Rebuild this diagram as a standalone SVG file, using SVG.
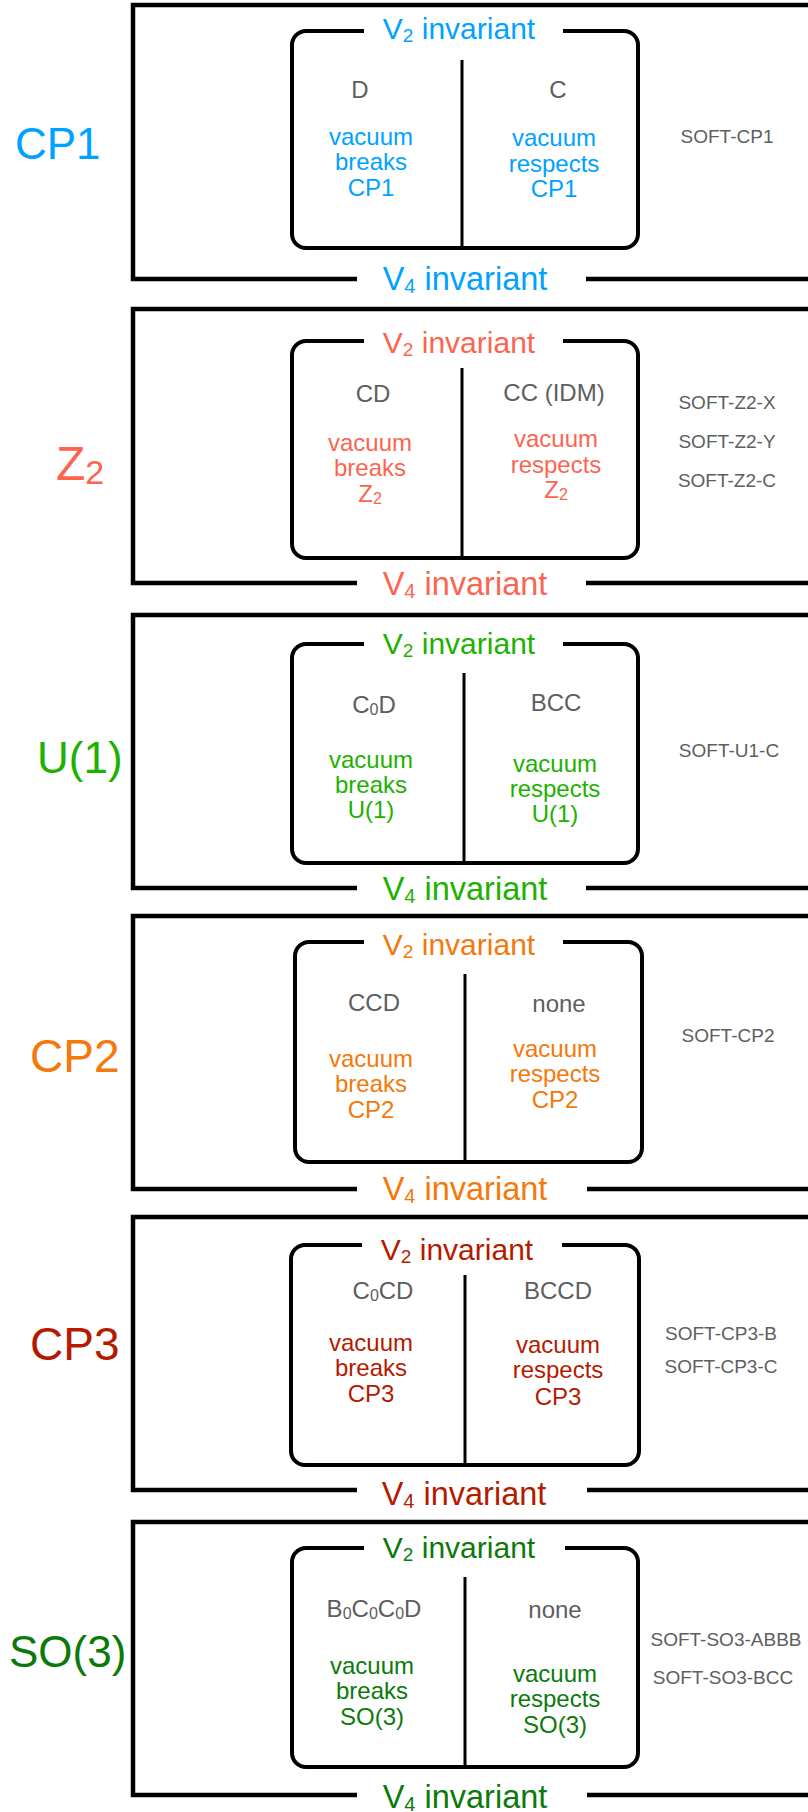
<svg xmlns="http://www.w3.org/2000/svg" width="808" height="1812" viewBox="0 0 808 1812">
<style>
text{font-family:"Liberation Sans",Arial,Helvetica,sans-serif}
.frame{fill:none;stroke:#000;stroke-width:4.5}
.inner{fill:none;stroke:#000;stroke-width:4;stroke-linejoin:round}
.div{stroke:#000;stroke-width:3}
.g{fill:#5e5e5e;font-size:24px;text-anchor:middle}
.b{font-size:24px;text-anchor:middle}
.v2{font-size:30px;text-anchor:middle}
.v4{font-size:32.5px;text-anchor:middle}
.soft{fill:#5e5e5e;font-size:19px;text-anchor:middle}
.cp1{fill:#00a2ff}
.z2{fill:#fd6450}
.u1{fill:#1db100}
.cp2{fill:#f4780a}
.cp3{fill:#b51a00}
.so3{fill:#0b7a0b}
</style>
<rect width="808" height="1812" fill="#fff"/>

<g id="sec-cp1">
<path class="frame" d="M357,279 H133 V5 H812 M586,279 H812"/>
<path class="inner" d="M364,31 H306 A14,14 0 0 0 292,45 V234 A14,14 0 0 0 306,248 H624 A14,14 0 0 0 638,234 V45 A14,14 0 0 0 624,31 H563"/>
<line class="div" x1="462" y1="60" x2="462" y2="248"/>
<text class="cp1" x="15" y="159" font-size="44">CP1</text>
<text class="v2 cp1" x="459" y="39">V<tspan font-size="19" dy="3">2</tspan><tspan dy="-3"> invariant</tspan></text>
<text class="v4 cp1" x="465" y="290">V<tspan font-size="20" dy="3">4</tspan><tspan dy="-3"> invariant</tspan></text>
<text class="g" x="360" y="98">D</text>
<text class="g" x="558" y="98">C</text>
<text class="b cp1" x="371" y="145">vacuum</text>
<text class="b cp1" x="371" y="170">breaks</text>
<text class="b cp1" x="371" y="196">CP1</text>
<text class="b cp1" x="554" y="146">vacuum</text>
<text class="b cp1" x="554" y="172">respects</text>
<text class="b cp1" x="554" y="197">CP1</text>
<text class="soft" x="727" y="143">SOFT-CP1</text>
</g>

<g id="sec-z2">
<path class="frame" d="M357,583 H133 V309 H812 M586,583 H812"/>
<path class="inner" d="M364,341 H306 A14,14 0 0 0 292,355 V544 A14,14 0 0 0 306,558 H624 A14,14 0 0 0 638,544 V355 A14,14 0 0 0 624,341 H563"/>
<line class="div" x1="462" y1="368" x2="462" y2="558"/>
<text class="z2" x="56" y="480" font-size="48">Z<tspan font-size="34" dy="4">2</tspan></text>
<text class="v2 z2" x="459" y="353">V<tspan font-size="19" dy="3">2</tspan><tspan dy="-3"> invariant</tspan></text>
<text class="v4 z2" x="465" y="595">V<tspan font-size="20" dy="3">4</tspan><tspan dy="-3"> invariant</tspan></text>
<text class="g" x="373" y="402">CD</text>
<text class="g" x="554" y="401">CC (IDM)</text>
<text class="b z2" x="370" y="451">vacuum</text>
<text class="b z2" x="370" y="476">breaks</text>
<text class="b z2" x="370" y="502">Z<tspan font-size="16" dy="2">2</tspan></text>
<text class="b z2" x="556" y="447">vacuum</text>
<text class="b z2" x="556" y="473">respects</text>
<text class="b z2" x="556" y="498">Z<tspan font-size="16" dy="2">2</tspan></text>
<text class="soft" x="727" y="409">SOFT-Z2-X</text>
<text class="soft" x="727" y="448">SOFT-Z2-Y</text>
<text class="soft" x="727" y="487">SOFT-Z2-C</text>
</g>

<g id="sec-u1">
<path class="frame" d="M357,888 H133 V615 H812 M586,888 H812"/>
<path class="inner" d="M364,644 H306 A14,14 0 0 0 292,658 V849 A14,14 0 0 0 306,863 H624 A14,14 0 0 0 638,849 V658 A14,14 0 0 0 624,644 H563"/>
<line class="div" x1="464" y1="673" x2="464" y2="863"/>
<text class="u1" x="37" y="773" font-size="44">U(1)</text>
<text class="v2 u1" x="459" y="654">V<tspan font-size="19" dy="3">2</tspan><tspan dy="-3"> invariant</tspan></text>
<text class="v4 u1" x="465" y="900">V<tspan font-size="20" dy="3">4</tspan><tspan dy="-3"> invariant</tspan></text>
<text class="g" x="374" y="713">C<tspan font-size="16" dy="2">0</tspan><tspan dy="-2">D</tspan></text>
<text class="g" x="556" y="711">BCC</text>
<text class="b u1" x="371" y="768">vacuum</text>
<text class="b u1" x="371" y="793">breaks</text>
<text class="b u1" x="371" y="818">U(1)</text>
<text class="b u1" x="555" y="772">vacuum</text>
<text class="b u1" x="555" y="797">respects</text>
<text class="b u1" x="555" y="822">U(1)</text>
<text class="soft" x="729" y="757">SOFT-U1-C</text>
</g>

<g id="sec-cp2">
<path class="frame" d="M357,1189 H133 V916 H812 M587,1189 H812"/>
<path class="inner" d="M364,942 H309 A14,14 0 0 0 295,956 V1148 A14,14 0 0 0 309,1162 H628 A14,14 0 0 0 642,1148 V956 A14,14 0 0 0 628,942 H563"/>
<line class="div" x1="465" y1="974" x2="465" y2="1162"/>
<text class="cp2" x="30" y="1072" font-size="46">CP2</text>
<text class="v2 cp2" x="459" y="955">V<tspan font-size="19" dy="3">2</tspan><tspan dy="-3"> invariant</tspan></text>
<text class="v4 cp2" x="465" y="1200">V<tspan font-size="20" dy="3">4</tspan><tspan dy="-3"> invariant</tspan></text>
<text class="g" x="374" y="1011">CCD</text>
<text class="g" x="559" y="1012">none</text>
<text class="b cp2" x="371" y="1067">vacuum</text>
<text class="b cp2" x="371" y="1092">breaks</text>
<text class="b cp2" x="371" y="1118">CP2</text>
<text class="b cp2" x="555" y="1057">vacuum</text>
<text class="b cp2" x="555" y="1082">respects</text>
<text class="b cp2" x="555" y="1108">CP2</text>
<text class="soft" x="728" y="1042">SOFT-CP2</text>
</g>

<g id="sec-cp3">
<path class="frame" d="M357,1490 H133 V1217 H812 M587,1490 H812"/>
<path class="inner" d="M362,1245 H305 A14,14 0 0 0 291,1259 V1451 A14,14 0 0 0 305,1465 H625 A14,14 0 0 0 639,1451 V1259 A14,14 0 0 0 625,1245 H562"/>
<line class="div" x1="465" y1="1275" x2="465" y2="1465"/>
<text class="cp3" x="30" y="1360" font-size="46">CP3</text>
<text class="v2 cp3" x="457" y="1260">V<tspan font-size="19" dy="3">2</tspan><tspan dy="-3"> invariant</tspan></text>
<text class="v4 cp3" x="464" y="1505">V<tspan font-size="20" dy="3">4</tspan><tspan dy="-3"> invariant</tspan></text>
<text class="g" x="383" y="1299">C<tspan font-size="16" dy="2">0</tspan><tspan dy="-2">CD</tspan></text>
<text class="g" x="558" y="1299">BCCD</text>
<text class="b cp3" x="371" y="1351">vacuum</text>
<text class="b cp3" x="371" y="1376">breaks</text>
<text class="b cp3" x="371" y="1402">CP3</text>
<text class="b cp3" x="558" y="1353">vacuum</text>
<text class="b cp3" x="558" y="1378">respects</text>
<text class="b cp3" x="558" y="1405">CP3</text>
<text class="soft" x="721" y="1340">SOFT-CP3-B</text>
<text class="soft" x="721" y="1373">SOFT-CP3-C</text>
</g>

<g id="sec-so3">
<path class="frame" d="M357,1795 H133 V1522 H812 M587,1795 H812"/>
<path class="inner" d="M364,1548 H306 A14,14 0 0 0 292,1562 V1753 A14,14 0 0 0 306,1767 H624 A14,14 0 0 0 638,1753 V1562 A14,14 0 0 0 624,1548 H565"/>
<line class="div" x1="465" y1="1577" x2="465" y2="1767"/>
<text class="so3" x="9" y="1667" font-size="44">SO(3)</text>
<text class="v2 so3" x="459" y="1558">V<tspan font-size="19" dy="3">2</tspan><tspan dy="-3"> invariant</tspan></text>
<text class="v4 so3" x="465" y="1808">V<tspan font-size="20" dy="3">4</tspan><tspan dy="-3"> invariant</tspan></text>
<text class="g" x="374" y="1617">B<tspan font-size="16" dy="2">0</tspan><tspan dy="-2">C</tspan><tspan font-size="16" dy="2">0</tspan><tspan dy="-2">C</tspan><tspan font-size="16" dy="2">0</tspan><tspan dy="-2">D</tspan></text>
<text class="g" x="555" y="1618">none</text>
<text class="b so3" x="372" y="1674">vacuum</text>
<text class="b so3" x="372" y="1699">breaks</text>
<text class="b so3" x="372" y="1725">SO(3)</text>
<text class="b so3" x="555" y="1682">vacuum</text>
<text class="b so3" x="555" y="1707">respects</text>
<text class="b so3" x="555" y="1733">SO(3)</text>
<text class="soft" x="726" y="1646">SOFT-SO3-ABBB</text>
<text class="soft" x="723" y="1684">SOFT-SO3-BCC</text>
</g>
</svg>
